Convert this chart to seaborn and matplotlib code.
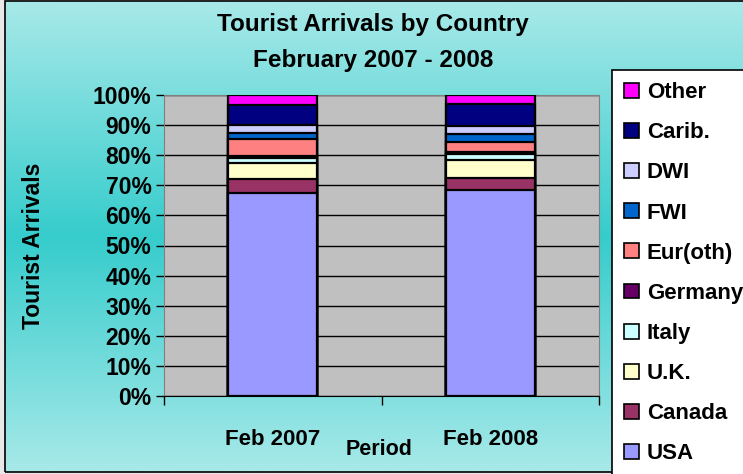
import numpy as np
import matplotlib
matplotlib.use('Agg')
import matplotlib.pyplot as plt
import seaborn as sns
from matplotlib.colors import LinearSegmentedColormap
from matplotlib.patches import Patch, Rectangle
from matplotlib.ticker import PercentFormatter

# Datos (porcentaje del total de llegadas)
periodos = ['Feb 2007', 'Feb 2008']
paises = ['USA', 'Canada', 'U.K.', 'Italy', 'Germany', 'Eur(oth)', 'FWI', 'DWI', 'Carib.', 'Other']
usa = [67.5, 68.3]
canada = [4.7, 4.0]
uk = [5.3, 6.0]
italy = [1.7, 2.1]
germany = [0.6, 0.8]
eur_oth = [5.5, 3.1]
fwi = [2.0, 2.6]
dwi = [2.7, 2.8]
carib = [6.7, 7.2]
other = [3.3, 3.1]
valores = [usa, canada, uk, italy, germany, eur_oth, fwi, dwi, carib, other]
colores = ['#9999FF', '#993366', '#FFFFCC', '#CCFFFF', '#660066',
           '#FF8080', '#0066CC', '#CCCCFF', '#000080', '#FF00FF']

sns.set_style('white')
plt.rcParams['font.family'] = ['Liberation Sans', 'DejaVu Sans']
plt.rcParams['font.weight'] = 'bold'
plt.rcParams['text.color'] = 'black'
plt.rcParams['axes.labelcolor'] = 'black'
plt.rcParams['xtick.color'] = 'black'
plt.rcParams['ytick.color'] = 'black'

W, H = 743, 474
fig = plt.figure(figsize=(W / 100, H / 100), dpi=100)
fig.patch.set_facecolor('#E8E8E8')

# Fondo degradado del area del grafico
bg = fig.add_axes([5 / W, 2 / H, 1 - 5 / W, 1 - 3 / H], zorder=-10)
cmap = LinearSegmentedColormap.from_list('fondo', ['#A8E9E9', '#36CCCC', '#A8E9E9'])
grad = np.linspace(0, 1, 256).reshape(-1, 1)
bg.imshow(grad, aspect='auto', cmap=cmap, extent=[0, 1, 0, 1])
bg.set_axis_off()
fig.patches.append(Rectangle((5 / W, 2 / H), 1, 1 - 3 / H, transform=fig.transFigure,
                             fill=False, edgecolor='black', linewidth=1.2, zorder=-5))

ax = fig.add_axes([164 / W, 78 / H, 435 / W, 301 / H])
ax.set_facecolor('#C0C0C0')

# Barras apiladas: acumulados, del mayor al menor
acum = np.cumsum(np.array(valores), axis=0) / 100.0
for i in range(len(paises) - 1, -1, -1):
    sns.barplot(x=periodos, y=acum[i], color=colores[i], saturation=1,
                width=0.41, edgecolor='black', linewidth=1.6, ax=ax, zorder=3)

ax.set_ylim(0, 1)
ax.set_xlim(-0.5, 1.5)
ax.set_yticks(np.arange(0, 1.01, 0.1))
ax.yaxis.set_major_formatter(PercentFormatter(1.0, decimals=0))
ax.yaxis.grid(True, color='black', linewidth=1)
ax.set_axisbelow(True)
ax.tick_params(axis='y', labelsize=16.5, left=True, length=6, width=1, pad=3)
ax.tick_params(axis='x', labelsize=16, bottom=False, length=0, pad=24)
ax.set_xticks([-0.5, 0.5, 1.5], minor=True)
ax.tick_params(axis='x', which='minor', bottom=True, length=6.5, width=1)
for lab in ax.get_yticklabels() + ax.get_xticklabels():
    lab.set_fontweight('bold')
for s in ['top', 'right', 'left']:
    ax.spines[s].set_color('#808080')
ax.spines['bottom'].set_color('black')

ax.set_ylabel('Tourist Arrivals', fontsize=16.5, fontweight='bold')
ax.yaxis.label.set_va('center')
ax.yaxis.set_label_coords(-0.301, 0.5)
ax.set_xlabel('Period', fontsize=15.5, fontweight='bold')
ax.xaxis.set_label_coords(0.494, -0.143)

fig.text(373 / W, 1 - 25 / H, 'Tourist Arrivals by Country', fontsize=17.5,
         fontweight='bold', ha='center', va='center')
fig.text(373 / W, 1 - 60 / H, 'February 2007 - 2008', fontsize=17.5,
         fontweight='bold', ha='center', va='center')

# Leyenda
handles = [Patch(facecolor=colores[i], edgecolor='black', linewidth=1.2, label=paises[i])
           for i in range(len(paises) - 1, -1, -1)]
leg = fig.legend(handles=handles, loc='upper left', bbox_to_anchor=(612 / W, 1 - 70 / H),
                 frameon=True, labelspacing=0.86, handlelength=0.65,
                 handleheight=0.65, handletextpad=0.36, borderpad=0.55, fancybox=False,
                 borderaxespad=0, prop={'weight': 'bold', 'size': 16})
leg.get_frame().set_edgecolor('black')
leg.get_frame().set_linewidth(1.2)
leg.get_frame().set_facecolor('white')
leg.get_frame().set_alpha(1)

fig.savefig('out.png', dpi=100)
